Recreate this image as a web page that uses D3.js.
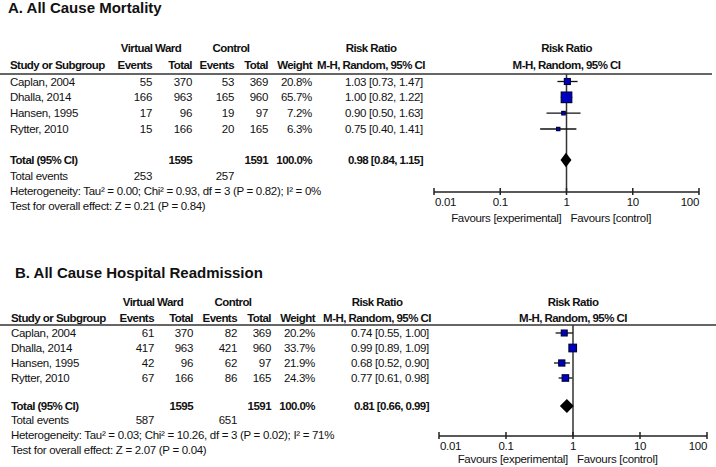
<!DOCTYPE html>
<html><head><meta charset="utf-8">
<script src="https://cdn.jsdelivr.net/npm/d3@7"></script>
<style>
html,body{margin:0;padding:0;background:#fff;}
svg{display:block;font-family:"Liberation Sans",Arial,sans-serif;}
</style></head>
<body>
<svg id="chart" width="716" height="467"></svg>
<script>
// ---------- DATA ----------
const studies = ["Caplan, 2004", "Dhalla, 2014", "Hansen, 1995", "Rytter, 2010"];
const vwTotals = [370, 963, 96, 166];
const ctlTotals = [369, 960, 97, 165];

// Panel A: All Cause Mortality
const mortVWEvents = [55, 166, 17, 15];
const mortCtlEvents = [53, 165, 19, 20];
const mortWeights = [20.8, 65.7, 7.2, 6.3];
const mortRR = [1.03, 1.00, 0.90, 0.75];
const mortLo = [0.73, 0.82, 0.50, 0.40];
const mortHi = [1.47, 1.22, 1.63, 1.41];
const mortPooled = [0.98, 0.84, 1.15];
const mortTotalEvents = [253, 257];
const mortHet = "Heterogeneity: Tau² = 0.00; Chi² = 0.93, df = 3 (P = 0.82); I² = 0%";
const mortTest = "Test for overall effect: Z = 0.21 (P = 0.84)";

// Panel B: All Cause Hospital Readmission
const readVWEvents = [61, 417, 42, 67];
const readCtlEvents = [82, 421, 62, 86];
const readWeights = [20.2, 33.7, 21.9, 24.3];
const readRR = [0.74, 0.99, 0.68, 0.77];
const readLo = [0.55, 0.89, 0.52, 0.61];
const readHi = [1.00, 1.09, 0.90, 0.98];
const readPooled = [0.81, 0.66, 0.99];
const readTotalEvents = [587, 651];
const readHet = "Heterogeneity: Tau² = 0.03; Chi² = 10.26, df = 3 (P = 0.02); I² = 71%";
const readTest = "Test for overall effect: Z = 2.07 (P = 0.04)";

const grandTotals = [1595, 1591];
const tickValues = [0.01, 0.1, 1, 10, 100];
const tickLabels = ["0.01", "0.1", "1", "10", "100"];

// ---------- DRAW ----------
const svg = d3.select("#chart");
const sizeScale = d3.scaleSqrt().domain([0, 100]).range([0, 13]);
const fmt2 = d3.format(".2f");

function panel(cfg) {
  const g = svg.append("g");
  const txt = (x, y, s, anchor, bold, size) => g.append("text")
    .attr("x", x).attr("y", y).attr("text-anchor", anchor || "start")
    .attr("font-size", size || 11.5).attr("font-weight", bold ? "bold" : "normal")
    .attr("letter-spacing", size ? 0 : (bold ? -0.55 : -0.3))
    .attr("fill", "#111").text(s);

  txt(cfg.titleX, cfg.titleY, cfg.title, "start", true, 15);

  const c = cfg.cols;
  const h1 = cfg.head1, h2 = cfg.head2;
  txt(c.vwCenter, h1, "Virtual Ward", "middle", true);
  txt(c.ctlCenter, h1, "Control", "middle", true);
  txt(c.rrCenter, h1, "Risk Ratio", "middle", true);
  txt(c.study, h2, "Study or Subgroup", "start", true);
  txt(c.vwE, h2, "Events", "end", true);
  txt(c.vwT, h2, "Total", "end", true);
  txt(c.ctlE, h2, "Events", "end", true);
  txt(c.ctlT, h2, "Total", "end", true);
  txt(c.w, h2, "Weight", "end", true);
  txt(c.rrCenter, h2, "M-H, Random, 95% CI", "middle", true);

  const x = d3.scaleLog().domain([0.01, 100]).range(cfg.xRange);
  txt(x(1), h1, "Risk Ratio", "middle", true);
  txt(x(1), h2, "M-H, Random, 95% CI", "middle", true);

  g.append("line").attr("x1", 0).attr("x2", cfg.lineEnd)
    .attr("y1", cfg.lineY).attr("y2", cfg.lineY)
    .attr("stroke", "#333").attr("stroke-width", 1.5);

  const y = d3.scalePoint().domain(studies).range(cfg.rowRange);

  studies.forEach((s, i) => {
    const yy = y(s) + 4;
    txt(c.study, yy, s);
    txt(c.vwE, yy, cfg.vwE[i], "end");
    txt(c.vwT, yy, vwTotals[i], "end");
    txt(c.ctlE, yy, cfg.ctlE[i], "end");
    txt(c.ctlT, yy, ctlTotals[i], "end");
    txt(c.w, yy, cfg.w[i].toFixed(1) + "%", "end");
    txt(c.rr, yy, `${fmt2(cfg.rr[i])} [${fmt2(cfg.lo[i])}, ${fmt2(cfg.hi[i])}]`, "end");
  });

  // totals
  const ty = cfg.totalY + 4;
  txt(c.study, ty, "Total (95% CI)", "start", true);
  txt(c.vwT, ty, grandTotals[0], "end", true);
  txt(c.ctlT, ty, grandTotals[1], "end", true);
  txt(c.w, ty, "100.0%", "end", true);
  txt(c.rr, ty, `${fmt2(cfg.pooled[0])} [${fmt2(cfg.pooled[1])}, ${fmt2(cfg.pooled[2])}]`, "end", true);
  txt(c.study, cfg.evY, "Total events");
  txt(c.vwE, cfg.evY, cfg.totEv[0], "end");
  txt(c.ctlE, cfg.evY, cfg.totEv[1], "end");
  txt(c.study, cfg.evY + 15, cfg.het);
  txt(c.study, cfg.evY + 30, cfg.test);

  // null line
  g.append("line").attr("x1", x(1)).attr("x2", x(1))
    .attr("y1", cfg.lineY).attr("y2", cfg.axisY)
    .attr("stroke", "#333").attr("stroke-width", 1.5);

  // CIs & squares
  studies.forEach((s, i) => {
    const yy = y(s);
    g.append("line").attr("x1", x(cfg.lo[i])).attr("x2", x(cfg.hi[i]))
      .attr("y1", yy).attr("y2", yy).attr("stroke", "#111").attr("stroke-width", 1.3);
    const sz = sizeScale(cfg.w[i]);
    g.append("rect").attr("x", x(cfg.rr[i]) - sz / 2).attr("y", yy - sz / 2)
      .attr("width", sz).attr("height", sz)
      .attr("fill", "#0000c0").attr("stroke", "#000040").attr("stroke-width", 1.2);
  });

  // diamond
  const p = cfg.pooled, dy = cfg.totalY, dh = 6;
  g.append("path")
    .attr("d", `M${x(p[1])},${dy} L${x(p[0])},${dy - dh} L${x(p[2])},${dy} L${x(p[0])},${dy + dh} Z`)
    .attr("fill", "#000").attr("stroke", "#000").attr("stroke-width", 1.5);

  // axis
  const ax = g.append("g").attr("transform", `translate(0,${cfg.axisY})`);
  ax.append("line").attr("x1", x(0.01)).attr("x2", x(100))
    .attr("stroke", "#222").attr("stroke-width", 1.5);
  tickValues.forEach((v, i) => {
    ax.append("line").attr("x1", x(v)).attr("x2", x(v)).attr("y1", -4).attr("y2", 3)
      .attr("stroke", "#222").attr("stroke-width", 1.5);
    const anchor = i === 0 ? "start" : (i === tickValues.length - 1 ? "end" : "middle");
    ax.append("text").attr("x", x(v) + (i === 0 ? 1 : 0)).attr("y", 14)
      .attr("text-anchor", anchor).attr("font-size", 11.5).attr("letter-spacing", -0.3)
      .attr("fill", "#111").text(tickLabels[i]);
  });
  txt(x(1) - 5, cfg.favY, "Favours [experimental]", "end");
  txt(x(1) + 4, cfg.favY, "Favours [control]", "start");
}

panel({
  title: "A. All Cause Mortality", titleX: 8, titleY: 13,
  head1: 52, head2: 69, lineY: 74, lineEnd: 712,
  cols: { study: 10, vwE: 152, vwT: 192, ctlE: 234, ctlT: 268, w: 312, rr: 423,
          vwCenter: 151, ctlCenter: 231, rrCenter: 371 },
  xRange: [434, 699], rowRange: [81.5, 129], totalY: 160, evY: 180, axisY: 192, favY: 222,
  vwE: mortVWEvents, ctlE: mortCtlEvents, w: mortWeights, rr: mortRR, lo: mortLo, hi: mortHi,
  pooled: mortPooled, totEv: mortTotalEvents, het: mortHet, test: mortTest
});

panel({
  title: "B. All Cause Hospital Readmission", titleX: 15, titleY: 278,
  head1: 306, head2: 322, lineY: 325, lineEnd: 716,
  cols: { study: 11, vwE: 154, vwT: 193, ctlE: 237, ctlT: 271, w: 315, rr: 429,
          vwCenter: 153, ctlCenter: 233, rrCenter: 377 },
  xRange: [439, 707], rowRange: [333, 378], totalY: 406, evY: 424, axisY: 436, favY: 463,
  vwE: readVWEvents, ctlE: readCtlEvents, w: readWeights, rr: readRR, lo: readLo, hi: readHi,
  pooled: readPooled, totEv: readTotalEvents, het: readHet, test: readTest
});
</script>
</body></html>
